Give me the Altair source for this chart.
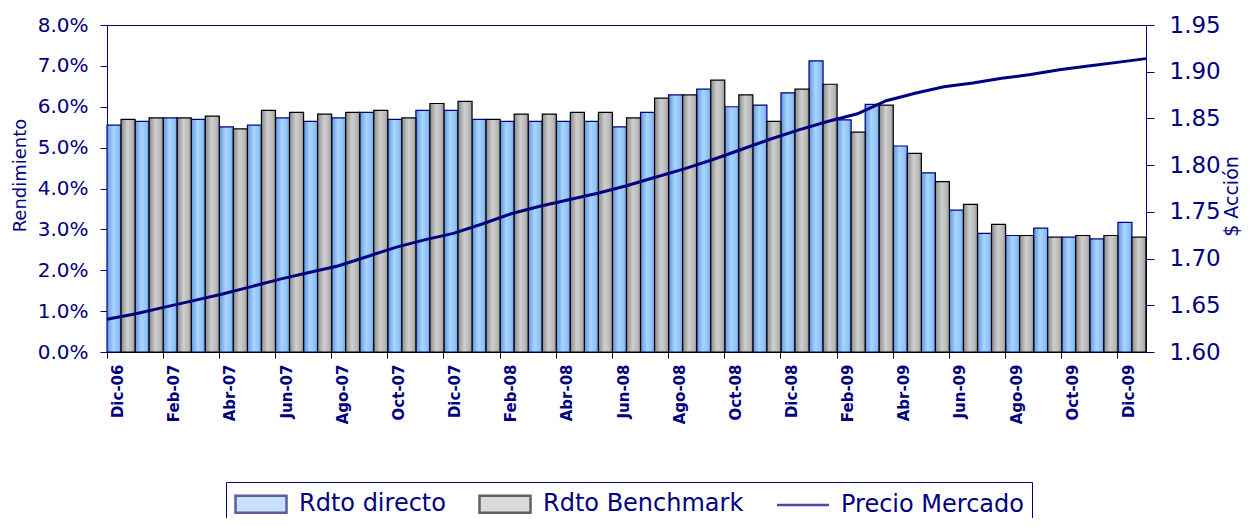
import altair as alt
import pandas as pd

months = ["Dic-06", "Ene-07", "Feb-07", "Mar-07", "Abr-07", "May-07", "Jun-07", "Jul-07",
          "Ago-07", "Sep-07", "Oct-07", "Nov-07", "Dic-07", "Ene-08", "Feb-08", "Mar-08",
          "Abr-08", "May-08", "Jun-08", "Jul-08", "Ago-08", "Sep-08", "Oct-08", "Nov-08",
          "Dic-08", "Ene-09", "Feb-09", "Mar-09", "Abr-09", "May-09", "Jun-09", "Jul-09",
          "Ago-09", "Sep-09", "Oct-09", "Nov-09", "Dic-09"]

# Rendimiento (%)
rdto_directo = [5.55, 5.64, 5.73, 5.69, 5.51, 5.55, 5.73, 5.64, 5.73, 5.86, 5.69, 5.91,
                5.91, 5.69, 5.64, 5.64, 5.64, 5.64, 5.51, 5.86, 6.29, 6.43, 6.00, 6.04,
                6.34, 7.12, 5.68, 6.06, 5.04, 4.38, 3.47, 2.90, 2.85, 3.03, 2.81, 2.77, 3.17]
rdto_benchmark = [5.69, 5.73, 5.73, 5.77, 5.46, 5.91, 5.86, 5.82, 5.86, 5.91, 5.73, 6.08,
                  6.13, 5.69, 5.82, 5.82, 5.86, 5.86, 5.73, 6.21, 6.29, 6.65, 6.29, 5.64,
                  6.43, 6.55, 5.38, 6.04, 4.86, 4.17, 3.61, 3.12, 2.85, 2.81, 2.85, 2.85, 2.81]
# $ Acción
precio_mercado = [1.635, 1.641, 1.648, 1.655, 1.662, 1.670, 1.678, 1.685, 1.692, 1.702,
                  1.712, 1.720, 1.727, 1.737, 1.748, 1.756, 1.763, 1.770, 1.778, 1.787,
                  1.796, 1.806, 1.817, 1.828, 1.838, 1.847, 1.855, 1.869, 1.877, 1.884,
                  1.888, 1.893, 1.897, 1.902, 1.906, 1.910, 1.914]

series_names = ["Rdto directo", "Rdto Benchmark", "Precio Mercado"]
left_ticks = [0.0, 0.01, 0.02, 0.03, 0.04, 0.05, 0.06, 0.07, 0.08]
right_ticks = [1.60, 1.65, 1.70, 1.75, 1.80, 1.85, 1.90, 1.95]

rows = []
for m, d, b in zip(months, rdto_directo, rdto_benchmark):
    rows.append({"month": m, "series": series_names[0], "value": d / 100})
    rows.append({"month": m, "series": series_names[1], "value": b / 100})
bars_df = pd.DataFrame(rows)
line_df = pd.DataFrame({"month": months, "precio": precio_mercado})
legend_df = pd.DataFrame({"series": series_names})

NAVY = "#000080"
FONT = "DejaVu Sans"

blue_grad = alt.Gradient(
    gradient="linear", x1=0, x2=1, y1=0, y2=0,
    stops=[alt.GradientStop(color="#5f95dc", offset=0),
           alt.GradientStop(color="#a9d5ff", offset=0.45),
           alt.GradientStop(color="#8fc3f6", offset=0.8),
           alt.GradientStop(color="#6a9fe2", offset=1)])
gray_grad = alt.Gradient(
    gradient="linear", x1=0, x2=1, y1=0, y2=0,
    stops=[alt.GradientStop(color="#8a8a8a", offset=0),
           alt.GradientStop(color="#cfcfcf", offset=0.45),
           alt.GradientStop(color="#b8b8b8", offset=0.8),
           alt.GradientStop(color="#909090", offset=1)])

x_enc = alt.X(
    "month:N", sort=months, title=None,
    scale=alt.Scale(paddingInner=0, paddingOuter=0),
    axis=alt.Axis(values=months[::2], bandPosition=0, labelAngle=270, labelOffset=-3,
                  labelFont=FONT, labelFontSize=15, labelFontWeight="bold",
                  labelColor=NAVY, tickColor="#000000", domainColor="#000000",
                  tickSize=6, labelPadding=6, grid=False))
xoff_enc = alt.XOffset("series:N",
                       scale=alt.Scale(domain=series_names[:2], paddingInner=0, paddingOuter=0))
y_enc = alt.Y(
    "value:Q", title="Rendimiento",
    scale=alt.Scale(domain=[0, 0.08], nice=False),
    axis=alt.Axis(values=left_ticks, format=".1%", labelFont=FONT, labelFontSize=20,
                  labelColor=NAVY, tickColor=NAVY, domainColor=NAVY, tickSize=7,
                  labelPadding=12, titleFont=FONT, titleFontSize=18,
                  titleFontWeight="normal", titleColor=NAVY, titlePadding=8,
                  titleY=150, grid=False))

blue = alt.Chart(bars_df).transform_filter(
    alt.datum.series == series_names[0]
).mark_bar(fill=blue_grad, stroke=NAVY, strokeWidth=1.2).encode(
    x=x_enc, xOffset=xoff_enc, y=y_enc)

gray = alt.Chart(bars_df).transform_filter(
    alt.datum.series == series_names[1]
).mark_bar(fill=gray_grad, stroke="#000000", strokeWidth=1.2).encode(
    x=x_enc, xOffset=xoff_enc, y=y_enc)

rect_path = "M-2.04,-0.68H2.04V0.68H-2.04Z"
line_path = "M-2.08,0H2.08"
leg = alt.Legend(orient="none", legendX=119, legendY=457, direction="horizontal",
                 title=None, symbolSize=625, symbolOffset=13, labelOffset=24,
                 labelFont=FONT, labelFontSize=24, labelLimit=400,
                 labelColor=NAVY, strokeColor=NAVY, padding=8, columnPadding=28,
                 symbolStrokeWidth=2.5, fillColor="#ffffff")
legend_layer = alt.Chart(legend_df).mark_point(clip=True, filled=True).encode(
    x=alt.value(0), y=alt.value(-200),
    fill=alt.Fill("series:N", scale=alt.Scale(domain=series_names,
                                              range=["#8fc3f6", "#b4b4b4", "transparent"]),
                  legend=leg),
    stroke=alt.Stroke("series:N", scale=alt.Scale(domain=series_names,
                                                  range=["#1a1a70", "#202020", NAVY]),
                      legend=leg),
    shape=alt.Shape("series:N", scale=alt.Scale(domain=series_names,
                                                range=[rect_path, rect_path, line_path]),
                    legend=leg))

line = alt.Chart(line_df).mark_line(color=NAVY, strokeWidth=3).encode(
    x=alt.X("month:N", sort=months, scale=alt.Scale(type="point", padding=0), axis=None),
    y=alt.Y("precio:Q", title="$ Acción",
            scale=alt.Scale(domain=[1.60, 1.95], nice=False, zero=False),
            axis=alt.Axis(orient="right", values=right_ticks, format=".2f",
                          labelFont=FONT, labelFontSize=23, labelColor=NAVY,
                          tickColor=NAVY, domainColor=NAVY, tickSize=8, labelPadding=15,
                          titleFont=FONT, titleFontSize=19, titleFontWeight="normal",
                          titleColor=NAVY, titleAngle=270, titlePadding=21,
                          titleY=171, grid=False)))

bars = alt.layer(blue, gray, legend_layer)
chart = alt.layer(bars, line).resolve_scale(
    x="independent", y="independent"
).properties(
    width=1039, height=327,
    autosize=alt.AutoSizeParams(type="none"),
    padding={"left": 99, "top": 17, "right": 100, "bottom": 166},
    background="#ffffff",
).configure_view(stroke=NAVY, strokeWidth=1)

chart.save("out.html", embed_options={"renderer": "svg", "actions": False})
